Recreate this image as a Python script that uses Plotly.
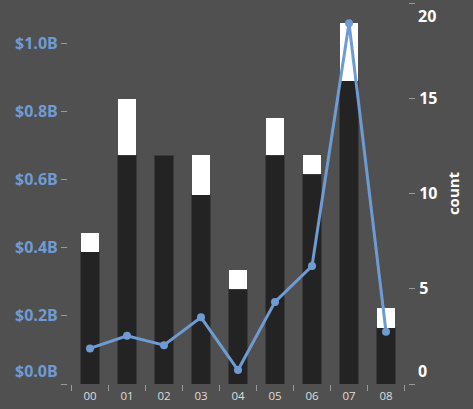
import plotly.graph_objects as go

categories = ["00", "01", "02", "03", "04", "05", "06", "07", "08"]
base_values = [0.388e9, 0.672e9, 0.672e9, 0.556e9, 0.278e9, 0.672e9, 0.616e9, 0.891e9, 0.165e9]
top_values = [0.056e9, 0.165e9, 0.0, 0.116e9, 0.056e9, 0.110e9, 0.056e9, 0.169e9, 0.057e9]
counts = [1.87, 2.53, 2.04, 3.50, 0.73, 4.31, 6.19, 18.94, 2.74]

left_ticks = [0, 0.2e9, 0.4e9, 0.6e9, 0.8e9, 1.0e9]
left_labels = ["$0.0B", "$0.2B", "$0.4B", "$0.6B", "$0.8B", "$1.0B"]
right_ticks = [0, 5, 10, 15, 20]
right_labels = ["0", "5", "10", "15", "20"]

BG = "#505050"
BLUE = "#6f9bd3"
TICK = "#9a9a9a"
FONT = "Open Sans"
FS = 16

fig = go.Figure()
fig.add_trace(go.Bar(x=categories, y=base_values, marker=dict(color="#232323", line=dict(color="#3a3a3a", width=1)),
                     showlegend=False, hoverinfo="skip"))
fig.add_trace(go.Bar(x=categories, y=top_values, marker=dict(color="#ffffff", line=dict(width=0)),
                     showlegend=False, hoverinfo="skip"))
fig.add_trace(go.Scatter(x=categories, y=counts, yaxis="y2", mode="lines+markers",
                         line=dict(color=BLUE, width=3), marker=dict(color=BLUE, size=8),
                         showlegend=False, hoverinfo="skip"))

# flushed edge labels: hide in ticktext, draw via annotations at the axis values
left_text = [""] + left_labels[1:]
right_text = [""] + right_labels[1:-1] + [""]

fig.update_layout(
    width=473, height=409,
    margin=dict(l=68, r=65, t=2.5, b=25, pad=0),
    paper_bgcolor=BG, plot_bgcolor=BG,
    barmode="stack", bargap=0.5,
    xaxis=dict(type="category", tickson="boundaries", ticks="outside", ticklen=6, tickcolor=TICK,
               tickwidth=1, showgrid=False, showline=False, zeroline=False, ticklabelstandoff=3,
               tickfont=dict(family=FONT, size=11.5, color="#dddddd")),
    yaxis=dict(range=[0, 1.1188e9], tickvals=left_ticks, ticktext=left_text, ticks="outside",
               ticklen=6, tickcolor=TICK, tickwidth=1, showgrid=False, zeroline=False, showline=False,
               tickfont=dict(family=FONT, size=FS, color=BLUE, weight="bold"), ticklabelstandoff=0),
    yaxis2=dict(range=[0, 20], overlaying="y", side="right", tickvals=right_ticks, ticktext=right_text,
                ticks="outside", ticklen=6, tickcolor=TICK, tickwidth=1, showgrid=False, zeroline=False,
                showline=False, tickfont=dict(family=FONT, size=FS, color="#ffffff", weight="bold"),
                ticklabelstandoff=1,
                title=dict(text="count", font=dict(family=FONT, size=15, color="#ffffff", weight="bold"),
                           standoff=12)),
)

fig.add_annotation(text=left_labels[0], xref="paper", x=0, yref="y", y=left_ticks[0],
                   xanchor="right", yanchor="bottom", xshift=-8, showarrow=False,
                   font=dict(family=FONT, size=FS, color=BLUE, weight="bold"))
fig.add_annotation(text=right_labels[0], xref="paper", x=1, yref="y2", y=right_ticks[0],
                   xanchor="left", yanchor="bottom", xshift=8, showarrow=False,
                   font=dict(family=FONT, size=FS, color="#ffffff", weight="bold"))
fig.add_annotation(text=right_labels[-1], xref="paper", x=1, yref="y2", y=right_ticks[-1],
                   xanchor="left", yanchor="top", xshift=8, showarrow=False,
                   font=dict(family=FONT, size=FS, color="#ffffff", weight="bold"))

fig.write_html("out.html")
